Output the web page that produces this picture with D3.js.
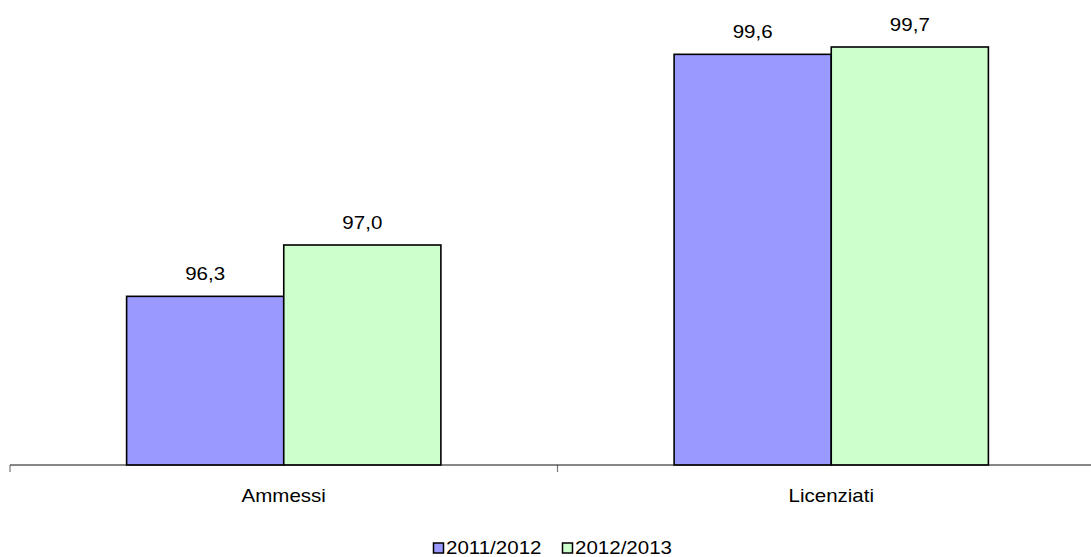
<!DOCTYPE html>
<html>
<head>
<meta charset="utf-8">
<script src="https://cdn.jsdelivr.net/npm/d3@7"></script>
<style>
  html, body { margin: 0; padding: 0; background: #fff; }
  svg { display: block; font-family: "Liberation Sans", Arial, sans-serif; }
</style>
</head>
<body>
<svg id="chart" width="1091" height="557"></svg>
<script>
const categories = ["Ammessi", "Licenziati"];
const seriesNames = ["2011/2012", "2012/2013"];
const values2011 = [96.3, 99.6];
const values2012 = [97.0, 99.7];
const yDomain = [94, 100];
const colors = ["#9999FF", "#CCFFCC"];

const seriesValues = [values2011, values2012];
const svg = d3.select("#chart");
const FS = 18, SX = 1.14;

function addText(parent, x, y, txt, anchor) {
  return parent.append("text")
    .attr("transform", `translate(${x},${y}) scale(${SX},1)`)
    .attr("text-anchor", anchor || "middle")
    .attr("font-size", FS + "px")
    .attr("fill", "#000")
    .text(txt);
}

const x0 = d3.scaleBand().domain(categories).range([10, 1105]).padding(0);
const x1 = d3.scaleBand().domain(seriesNames).range([0, x0.bandwidth()])
  .paddingInner(0).paddingOuter(0.742);
const y = d3.scaleLinear().domain(yDomain).range([465, 25]);

const fmt = v => d3.format(".1f")(v).replace(".", ",");

// bars
categories.forEach((c, ci) => {
  const g = svg.append("g").attr("transform", `translate(${x0(c)},0)`);
  seriesNames.forEach((s, si) => {
    const v = seriesValues[si][ci];
    g.append("rect")
      .attr("x", x1(s))
      .attr("y", y(v))
      .attr("width", x1.bandwidth())
      .attr("height", y(yDomain[0]) - y(v))
      .attr("fill", colors[si])
      .attr("stroke", "#000")
      .attr("stroke-width", 1.6);
    addText(g, x1(s) + x1.bandwidth() / 2, y(v) - 16, fmt(v));
  });
});

// x axis
const base = y(yDomain[0]);
const ax = svg.append("g").attr("transform", `translate(0,${base})`);
const bounds = categories.map(c => x0(c)).concat([x0(categories[categories.length - 1]) + x0.bandwidth()]);
ax.selectAll("line.bt").data(bounds).enter().append("line")
  .attr("class", "bt")
  .attr("x1", d => d).attr("x2", d => d)
  .attr("y1", 0).attr("y2", 7)
  .attr("stroke", "#777").attr("stroke-width", 1.2);
ax.append("line").attr("x1", 10).attr("x2", 1105).attr("y1", 0).attr("y2", 0)
  .attr("stroke", "#111").attr("stroke-width", 1.2);
categories.forEach(c => addText(ax, x0(c) + x0.bandwidth() / 2, 37, c));

// legend
const legend = svg.append("g").attr("transform", "translate(433,554)");
const legendX = [0, 129];
seriesNames.forEach((s, i) => {
  const lg = legend.append("g").attr("transform", `translate(${legendX[i]},0)`);
  lg.append("rect").attr("x", 0.5).attr("y", -11).attr("width", 10).attr("height", 10)
    .attr("fill", colors[i]).attr("stroke", "#000").attr("stroke-width", 1.5);
  addText(lg, 13, 0, s, "start");
});
</script>
</body>
</html>
